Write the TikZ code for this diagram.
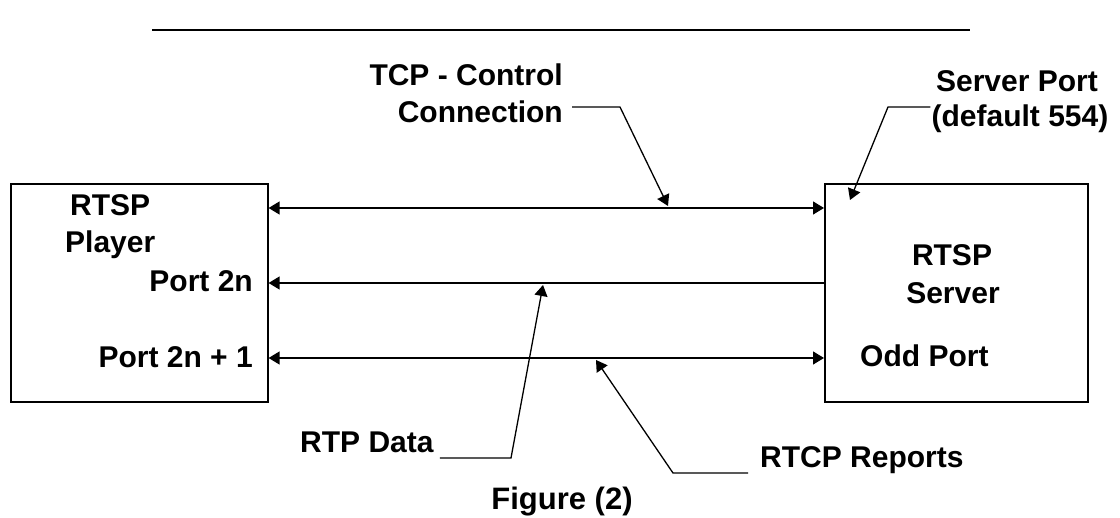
\documentclass[tikz,border=0pt]{standalone}
\usepackage{fontspec}
\setmainfont{Liberation Sans}
\usetikzlibrary{arrows.meta,calc}
\begin{document}
\begin{tikzpicture}[x=1pt,y=-1pt,
  lbl/.style={font=\fontsize{30}{34}\selectfont\bfseries, inner sep=0pt},
  box/.style={draw, line width=1.6pt, inner sep=0pt, anchor=north west},
  conn/.style={line width=1.3pt},
  tip/.style={-{Triangle[length=11pt,width=13pt]}},
  both/.style={{Triangle[length=11pt,width=13pt]}-{Triangle[length=11pt,width=13pt]}}
]
\useasboundingbox (0,0) rectangle (1120,518);
\draw[line width=2.4pt] (152,30) -- (970,30);

\node[box, minimum width=257pt, minimum height=218pt] (player) at (10,183) {};
\node[box, minimum width=263pt, minimum height=218pt] (server) at (824,183) {};

\node[lbl, anchor=base west] (t1) at (70,216) {RTSP};
\node[lbl, anchor=base west] (t2) at (65,253) {Player};
\node[lbl, anchor=base east] (t3) at (253,292) {Port 2n};
\node[lbl, anchor=base east] (t4) at (253,368) {Port 2n + 1};
\node[lbl, anchor=base] (t5) at (952,266) {RTSP};
\node[lbl, anchor=base] (t6) at (953,304) {Server};
\node[lbl, anchor=base west] (t7) at (860,367) {Odd Port};
\node[lbl, anchor=base east] (tcp1) at (563,86) {TCP - Control};
\node[lbl, anchor=base east] (tcp2) at (563,123) {Connection};
\node[lbl, anchor=base] (sp1) at (1017,92) {Server Port};
\node[lbl, anchor=base] (sp2) at (1020,127) {(default 554)};
\node[lbl, anchor=base west] (rtp) at (300,453) {RTP Data};
\node[lbl, anchor=base west] (rtcp) at (760,468) {RTCP Reports};
\node[font=\fontsize{31}{34}\selectfont\bfseries, inner sep=0pt, anchor=base] (fig) at (562,510) {Figure (2)};

\coordinate (yA) at (0,208);
\coordinate (yB) at (0,283);
\coordinate (yC) at (0,358);
\draw[conn,both] (player.east |- yA) -- (server.west |- yA);
\draw[conn,tip] (server.west |- yB) -- (player.east |- yB);
\draw[conn,both] (player.east |- yC) -- (server.west |- yC);

\coordinate (tcpTip) at (668,206);
\coordinate (spTip) at (850,200);
\coordinate (rtpTip) at (543,285);
\coordinate (rtcpTip) at (596,360);
\draw[conn,tip] ($(tcp2.base east)+(9,-16)$) -- (620,107) -- (tcpTip);
\draw[conn,tip] ($(sp2.base west)+(-1,-20)$) -- (888,107) -- (spTip);
\draw[conn,tip] ($(rtp.base east)+(6,5)$) -- (511,458) -- (rtpTip);
\draw[conn,tip] ($(rtcp.base west)+(-12,5)$) -- (673,473) -- (rtcpTip);
\end{tikzpicture}
\end{document}
